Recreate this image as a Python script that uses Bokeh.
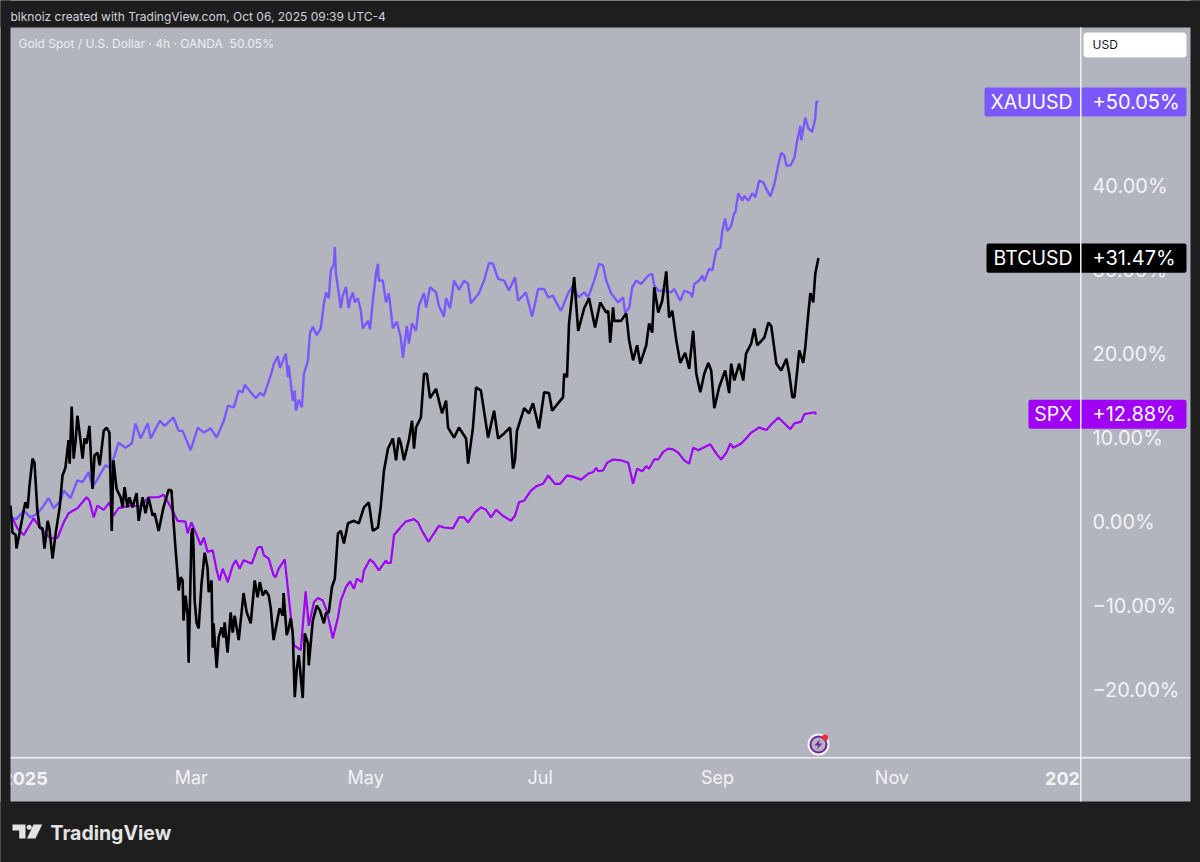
# Gold / Bitcoin / S&P 500 performance, TradingView style

import pandas as pd
from bokeh.embed import file_html
from bokeh.models import BoxAnnotation, DatetimeTickFormatter, FixedTicker, Label, PolyAnnotation, Range1d
from bokeh.plotting import figure
from bokeh.resources import INLINE

# (days since 2025-01-01, % change)
btc = [(-4.2,2.0),(-3.5,-1.2),(-2.4,-1.5),(-2.1,-3.1),(-1.0,-1.2),(0.4,1.4),(1.0,2.4),(1.8,1.7),(2.4,4.2),(3.5,7.6),(4.2,7.1),
       (5.2,1.4),(6.0,-0.6),(7.0,-0.7),(7.7,-3.1),(8.8,0.2),(9.4,-0.7),(10.5,-4.3),(11.6,-1.3),(13.0,1.8),(14.0,5.6),(15.0,6.5),
       (16.1,9.8),(16.5,7.0),(17.2,13.8),(17.9,7.6),(18.6,9.8),(19.2,12.7),(20.0,10.6),(21.0,7.6),(21.7,10.0),(22.4,9.4),(23.4,11.5),
       (24.5,4.0),(25.2,8.0),(26.2,8.3),(27.0,6.8),(28.4,10.9),(29.4,11.3),(30.4,10.7),(31.2,-1.0),(31.8,7.4),(32.9,4.0),(34.3,3.0),
       (35.0,1.8),(35.7,4.2),(36.7,1.8),(37.4,3.0),(38.5,1.8),(39.9,3.5),(40.6,0.2),(42.0,3.0),(43.0,1.1),(44.1,3.0),(45.5,0.8),
       (46.2,1.1),(47.6,-1.0),(49.3,1.8),(51.1,3.9),(52.1,3.8),(52.8,0.2),(53.5,-3.1),(54.2,-6.1),(54.6,-8.1),(55.3,-6.5),(56.0,-6.9),
       (56.3,-11.7),(57.0,-8.7),(57.7,-10.8),(58.1,-16.7),(59.1,-1.3),(59.5,-0.7),(59.8,-3.0),(60.2,-9.3),(60.9,-12.0),(61.6,-12.6),
       (62.6,-7.3),(63.7,-3.6),(64.7,-5.4),(65.1,-8.3),(66.1,-6.9),(66.5,-14.9),(66.8,-12.0),(67.9,-17.3),(68.6,-13.7),(69.6,-12.5),
       (70.3,-13.7),(70.7,-11.9),(71.7,-15.5),(72.8,-10.7),(73.5,-13.1),(74.2,-11.1),(75.6,-14.0),(77.3,-8.4),(78.4,-10.7),(79.8,-12.0),
       (81.2,-6.9),(82.2,-8.9),(83.0,-7.1),(84.0,-8.7),(85.0,-8.1),(86.1,-8.7),(86.8,-10.2),(87.8,-14.0),(88.9,-12.0),(89.9,-10.2),
       (91.0,-11.1),(91.3,-8.4),(92.4,-13.4),(93.1,-12.6),(93.8,-11.4),(94.5,-13.2),(95.2,-20.8),(95.9,-17.4),(96.6,-15.8),(97.3,-18.4),
       (98.0,-20.9),(98.7,-13.2),(99.8,-14.4),(100.1,-17.0),(101.5,-11.7),(102.9,-9.9),(104.0,-10.5),(105.4,-12.0),(106.1,-10.8),
       (107.1,-10.7),(108.2,-7.7),(109.2,-6.7),(110.3,-1.3),(111.3,-1.0),(112.4,-2.5),(113.8,-0.1),(115.9,0.2),(117.6,-0.1),(119.4,1.8),
       (121.1,2.4),(122.5,-1.0),(124.3,-0.6),(125.3,2.0),(126.4,6.2),(127.8,8.8),(129.5,10.0),(130.6,7.4),(131.6,10.1),(132.3,9.4),
       (133.4,7.4),(135.1,9.8),(136.2,12.1),(136.9,8.8),(137.6,11.3),(139.3,12.5),(140.4,17.7),(141.4,17.7),(142.5,14.8),(144.6,15.9),
       (146.7,13.0),(148.1,14.5),(148.8,11.3),(150.9,10.1),(152.6,11.3),(155.1,10.0),(155.8,7.0),(157.5,11.3),(158.6,16.1),(160.3,15.7),
       (162.8,10.1),(164.9,13.3),(166.3,10.0),(168.4,10.6),(170.5,11.3),(171.5,6.4),(172.2,7.4),(172.9,10.9),(175.4,13.6),(177.1,13.0),
       (178.5,14.2),(180.6,11.2),(182.4,15.5),(184.1,15.4),(185.2,13.3),(187.3,14.2),(189.0,14.9),(189.4,17.7),(190.4,17.3),(191.1,23.7),
       (192.9,29.2),(194.3,22.8),(196.4,25.5),(198.1,26.7),(200.2,23.2),(202.0,26.2),(204.1,25.0),(204.8,25.2),(205.5,21.4),(206.5,25.6),
       (206.9,24.0),(209.3,24.0),(211.1,24.9),(212.1,21.7),(213.5,19.3),(214.9,21.1),(216.0,18.9),(218.1,21.1),(219.1,23.7),(220.2,22.6),
       (220.9,28.0),(222.3,25.0),(223.7,26.4),(225.1,29.9),(226.1,24.4),(227.2,25.2),(228.6,21.7),(230.0,19.0),(231.7,20.2),(233.1,18.3),
       (234.5,22.8),(235.6,17.7),(237.0,15.5),(238.4,17.7),(239.8,19.0),(240.8,18.1),(241.9,13.6),(243.6,16.1),(245.7,18.1),(247.1,15.4),
       (247.8,18.9),(248.9,16.9),(250.6,18.9),(252.0,16.9),(253.0,20.1),(254.8,21.3),(255.9,23.1),(256.9,21.1),(259.4,22.0),(260.8,23.8),
       (261.8,23.4),(263.6,18.9),(265.3,18.1),(267.1,19.5),(268.1,17.7),(269.2,14.9),(269.9,14.9),(270.9,18.1),(271.6,20.5),(273.0,19.0),
       (273.7,20.8),(274.8,25.0),(275.5,27.3),(276.5,26.2),(277.2,29.6),(278.3,31.47)]

gold = [(-4.2,0.6),(-2.1,0.4),(0.4,1.4),(2.8,0.6),(5.6,1.2),(7.4,2.0),(9.1,2.9),(10.9,1.7),(13.3,2.6),(14.4,3.8),(16.8,2.9),(19.2,5.0),
        (21.0,4.8),(23.1,6.0),(24.5,4.2),(26.6,5.4),(29.0,6.8),(30.8,6.5),(33.6,9.5),(36.0,8.9),(38.2,9.4),(39.5,11.8),(41.3,10.0),
        (43.8,11.8),(44.8,10.0),(48.0,12.1),(49.7,11.5),(52.8,12.5),(54.6,10.9),(56.0,10.9),(58.8,8.6),(61.3,11.3),(63.4,10.7),(65.8,11.2),
        (67.9,10.1),(70.4,12.1),(71.8,13.9),(73.9,13.7),(75.6,15.7),(77.0,15.5),(77.7,16.4),(79.8,15.5),(81.6,14.8),(83.0,15.4),(84.4,15.1),
        (86.8,17.5),(87.9,18.9),(89.3,19.8),(90.0,18.4),(92.1,20.1),(92.8,17.3),(93.1,18.7),(94.5,14.5),(95.2,15.7),(95.6,13.3),(96.6,14.6),
        (97.7,13.7),(98.4,17.7),(99.8,19.3),(100.5,22.5),(101.5,23.3),(102.9,22.3),(104.3,23.1),(105.4,26.1),(106.1,27.4),(107.1,26.7),
        (107.8,30.0),(108.9,30.8),(109.2,32.8),(109.6,29.6),(110.3,28.0),(111.3,25.5),(112.0,27.0),(113.1,28.0),(114.1,25.5),(114.5,26.4),
        (115.5,27.4),(116.2,26.2),(117.3,26.7),(118.3,25.2),(119.0,23.1),(120.8,24.0),(121.5,23.0),(122.5,26.4),(123.6,29.6),(124.3,30.8),
        (124.6,28.8),(126.0,28.8),(127.1,26.2),(128.1,27.3),(129.5,23.1),(130.9,23.9),(132.3,22.0),(133.0,19.6),(134.4,23.4),(135.1,21.3),
        (136.2,23.7),(137.6,22.8),(138.6,25.8),(140.4,27.3),(141.1,25.6),(142.5,28.0),(144.6,27.4),(145.6,25.8),(147.4,24.5),(148.1,26.7),
        (149.5,25.5),(150.9,28.8),(152.6,27.7),(154.4,28.8),(155.8,28.4),(156.8,26.1),(159.6,27.3),(161.4,28.8),(163.1,30.9),(164.5,30.8),
        (166.3,29.0),(168.4,28.8),(170.1,27.6),(172.2,29.2),(173.3,26.4),(176.0,27.4),(178.2,24.5),(180.3,27.8),(182.4,27.8),(183.8,26.8),
        (185.5,27.0),(186.6,26.2),(188.3,25.2),(190.8,27.3),(192.5,28.2),(194.3,26.8),(196.4,27.4),(197.8,26.8),(199.9,28.8),(201.6,30.8),
        (203.0,30.6),(204.1,28.8),(205.8,27.3),(208.3,26.2),(210.0,26.8),(210.7,25.0),(212.1,25.5),(213.2,28.0),(214.6,28.8),(216.3,28.4),
        (218.8,29.4),(220.2,29.6),(220.9,28.2),(222.3,27.6),(224.4,27.6),(226.8,27.4),(227.9,27.8),(230.0,26.4),(231.4,27.6),(233.5,27.3),
        (234.2,26.8),(234.9,28.4),(236.6,28.8),(237.7,29.4),(238.4,28.7),(240.1,30.2),(241.2,30.0),(242.6,32.4),(244.0,32.7),(244.7,34.7),
        (245.7,36.2),(246.4,34.7),(247.8,35.3),(248.9,36.9),(249.2,36.8),(250.3,39.2),(251.7,38.3),(252.4,38.9),(253.8,38.3),(255.2,39.2),
        (256.2,38.7),(257.6,40.7),(259.0,40.5),(260.4,39.5),(261.5,38.8),(262.9,40.3),(264.6,43.1),(265.3,44.0),(266.4,43.7),(267.1,42.5),
        (268.5,42.5),(269.9,43.4),(270.9,45.5),(272.0,47.2),(272.3,45.5),(273.7,48.2),(274.8,46.9),(276.1,46.5),(277.2,48.1),(277.6,50.1),
        (278.3,50.05)]

spx = [(-4.2,0.5),(-3.5,0.5),(-1.8,-0.7),(0.4,-1.5),(3.9,0.5),(6.3,-0.7),(9.8,-1.9),(12.3,-1.8),(14.4,0.0),(16.1,1.1),(19.2,1.7),(22.4,3.0),
       (23.4,2.6),(24.9,0.6),(26.2,2.0),(28.4,1.5),(30.4,2.4),(31.8,0.8),(33.6,1.7),(37.8,2.0),(41.3,1.9),(44.1,3.0),(47.6,3.0),(49.3,3.3),
       (51.1,2.3),(52.8,1.2),(54.2,0.2),(57.0,0.1),(57.7,-1.3),(59.1,0.0),(61.3,-1.8),(62.3,-2.7),(63.4,-1.8),(64.7,-3.5),(66.5,-3.3),
       (67.9,-5.7),(68.9,-6.9),(70.0,-5.5),(71.8,-7.1),(73.5,-5.1),(74.6,-4.5),(75.9,-5.5),(77.3,-4.5),(80.2,-4.9),(82.2,-3.0),(83.6,-2.9),
       (84.4,-3.9),(86.1,-4.3),(87.8,-6.3),(88.5,-6.5),(89.6,-5.5),(91.7,-4.4),(93.1,-8.9),(94.9,-14.6),(97.3,-15.2),(99.0,-8.2),(100.1,-12.3),
       (101.9,-9.5),(103.3,-9.0),(105.0,-9.3),(106.4,-10.5),(108.5,-13.8),(110.3,-11.3),(111.3,-9.3),(113.1,-7.7),(114.5,-7.0),(115.9,-7.9),
       (116.9,-6.7),(118.7,-7.1),(119.4,-5.7),(121.5,-4.4),(122.9,-4.8),(124.6,-5.7),(127.1,-4.5),(127.4,-4.8),(128.8,-4.8),(129.9,-1.5),
       (131.6,-0.8),(134.0,0.1),(136.9,0.4),(138.3,0.0),(139.7,-1.0),(141.9,-2.3),(145.6,-0.4),(147.4,-0.6),(150.5,-0.7),(152.6,0.6),(154.4,0.6),
       (155.8,0.0),(158.2,1.2),(160.3,1.8),(162.1,1.5),(163.8,0.6),(165.6,1.5),(168.0,0.8),(170.8,0.2),(172.2,0.8),(173.6,2.4),(175.4,2.6),
       (177.8,3.8),(179.6,4.3),(182.0,4.6),(183.8,5.6),(186.2,4.6),(188.0,4.6),(190.4,5.6),(192.9,5.4),(195.3,5.1),(197.8,5.8),(199.5,6.0),
       (200.6,6.5),(201.3,6.1),(203.0,6.2),(204.4,7.1),(206.5,7.5),(209.3,7.4),(211.8,7.1),(213.5,4.6),(214.9,6.4),(216.7,6.1),(218.1,6.7),
       (219.1,6.4),(220.9,7.5),(222.3,7.5),(224.0,8.4),(225.8,8.8),(227.5,8.7),(229.3,8.3),(231.4,7.4),(233.1,7.0),(234.5,8.9),(236.3,8.6),
       (238.0,8.9),(240.5,9.3),(242.6,8.2),(244.3,7.5),(246.1,8.3),(247.5,9.4),(248.5,8.9),(251.3,9.4),(253.0,10.0),(254.8,10.7),(257.6,11.3),
       (260.1,11.0),(262.2,11.8),(264.3,12.5),(266.4,11.8),(268.5,11.1),(269.9,11.8),(272.3,12.0),(273.4,12.9),(275.1,13.0),(276.9,13.1),
       (277.6,12.88)]

price_ticks = [-20, -10, 0, 10, 20, 30, 40]
price_labels = ["\u221220.00%", "\u221210.00%", "0.00%", "10.00%", "20.00%", "30.00%", "40.00%"]
month_ticks = ["2025-03-01", "2025-05-01", "2025-07-01", "2025-09-01", "2025-11-01"]
year_ticks = [("2025-01-01", "2025"), ("2026-01-01", "2026")]
tags = [("XAUUSD", 50.05, "+50.05%", "#7a58fb", 984), ("BTCUSD", 31.47, "+31.47%", "#000000", 986), ("SPX", 12.88, "+12.88%", "#a000f5", 1028)]

DARK = "#1e1e1e"
PANEL = "#b2b5be"
SOFT = "#f2f3f6"
FONT = "Inter"

START = pd.Timestamp("2025-01-01")


def to_dates(points):
    return START + pd.to_timedelta([d for d, _ in points], unit="D")


# the frame fills the page, the axes sit inside it at a fixed place (annotations get clipped to the frame otherwise)
p = figure(width=1200, height=862, x_axis_type="datetime", y_axis_location="right",
           x_range=Range1d(START + pd.Timedelta(days=-7.69), START + pd.Timedelta(days=411.9)),
           y_range=Range1d(-40.48, 62.14),
           output_backend="svg", toolbar_location=None, min_border=0)
p.border_fill_color = DARK
p.background_fill_color = PANEL
p.outline_line_color = None
p.grid.visible = False


# boxes in canvas pixels
def box(left, right, top, bottom, color, radius=0):
    b = BoxAnnotation(left=left, right=right, top=top, bottom=bottom,
                      left_units="canvas", right_units="canvas", top_units="canvas", bottom_units="canvas",
                      fill_color=color, fill_alpha=1, line_color=None, border_radius=radius)
    p.add_layout(b)
    return b


def poly(points, color):
    p.add_layout(PolyAnnotation(xs=[a for a, _ in points], ys=[b for _, b in points], xs_units="canvas", ys_units="canvas",
                                fill_color=color, fill_alpha=1, line_color=None))


# axes
p.xaxis.fixed_location = -27.98
p.xaxis.ticker = FixedTicker(ticks=[pd.Timestamp(d).timestamp() * 1000 for d in month_ticks])
p.xaxis.formatter = DatetimeTickFormatter(months="%b", days="%b", context=None)
p.xaxis.major_label_text_color = SOFT
p.xaxis.major_label_text_font = FONT
p.xaxis.major_label_text_font_size = "18px"
p.xaxis.major_label_standoff = 3
p.yaxis.fixed_location = (START + pd.Timedelta(days=369.93)).timestamp() * 1000
p.yaxis.ticker = FixedTicker(ticks=price_ticks)
p.yaxis.major_label_overrides = dict(zip(price_ticks, price_labels))
p.yaxis.major_label_text_color = SOFT
p.yaxis.major_label_text_font = FONT
p.yaxis.major_label_text_font_size = "20px"
p.yaxis.major_label_standoff = 6
for ax in (p.xaxis[0], p.yaxis[0]):
    ax.axis_line_color = None
    ax.major_tick_line_color = None
    ax.minor_tick_line_color = None

# lines
p.line(to_dates(gold), [v for _, v in gold], line_color="#7a58fb", line_width=2.4)
p.line(to_dates(spx), [v for _, v in spx], line_color="#a000f5", line_width=2.2)
p.line(to_dates(btc), [v for _, v in btc], line_color="#000000", line_width=2.6)

# bold year labels, cut by the panel edges like on the original
for day, name in year_ticks:
    p.add_layout(Label(x=pd.Timestamp(day), y=778, x_units="data", y_units="canvas", text=name, text_color=SOFT, text_font=FONT,
                       text_font_size="18px", text_font_style="bold", text_align="center", text_baseline="middle", x_offset=2))
box(1080, 1190, 758, 801, PANEL)

# dark frame round the panel
box(-2, 1202, -2, 27, DARK)
box(-2, 1202, 801, 864, DARK)
box(-2, 10, -2, 864, DARK)
box(1190, 1202, -2, 864, DARK)

# currency tags
for name, val, txt, col, left in tags:
    b = BoxAnnotation(left=left, right=1186, top=val + 1.73, bottom=val - 1.73, left_units="canvas", right_units="canvas",
                      fill_color=col, fill_alpha=1, line_color=None, border_radius=2)
    p.add_layout(b)
    p.add_layout(Label(x=1072, y=val, x_units="canvas", y_units="data", text=name, text_color="#ffffff", text_font=FONT,
                       text_font_size="19.5px", text_align="right", text_baseline="middle"))
    p.add_layout(Label(x=1092, y=val, x_units="canvas", y_units="data", text=txt, text_color="#ffffff", text_font=FONT,
                       text_font_size="20px", text_align="left", text_baseline="middle"))

# price scale and time scale separators
box(1079.5, 1081, 27, 801, "#eef0f4")
box(10, 1190, 756.5, 758, "#eef0f4")

# USD button
box(1083, 1186, 32, 57, "#ffffff", radius=4)
p.add_layout(Label(x=1092, y=44, x_units="canvas", y_units="canvas", text="USD", text_color="#131722", text_font=FONT,
                   text_font_size="12px", text_baseline="middle"))

# header texts
p.add_layout(Label(x=10, y=16, x_units="canvas", y_units="canvas", text="blknoiz created with TradingView.com, Oct 06, 2025 09:39 UTC-4",
                   text_color="#d1d4dc", text_font=FONT, text_font_size="12px", text_baseline="middle"))
p.add_layout(Label(x=18, y=43, x_units="canvas", y_units="canvas", text="Gold Spot / U.S. Dollar \u00b7 4h \u00b7 OANDA\u00a0\u00a050.05%",
                   text_color="#eceef2", text_font=FONT, text_font_size="12px", text_baseline="middle"))

# TradingView logo
poly([(12, 824), (25, 824), (25, 838), (18.7, 838), (18.7, 830), (12, 830)], "#e3e3e3")
box(26.2, 31.2, 824.2, 829.2, "#e3e3e3", radius=3)
poly([(33, 824), (41.7, 824), (35, 838), (26.5, 838)], "#e3e3e3")
p.add_layout(Label(x=50, y=832, x_units="canvas", y_units="canvas", text="TradingView", text_color="#e3e3e3", text_font=FONT,
                   text_font_size="19.5px", text_font_style="bold", text_baseline="middle"))

# news badge on the time scale
box(807, 829, 733, 755, "#f5f5f8", radius=11)
box(809, 827, 735, 753, "#7b1fa2", radius=9)
box(811, 825, 737, 751, PANEL, radius=7)
poly([(819.5, 738.5), (814, 745), (817.8, 745), (816, 749.5), (821.8, 743), (818.2, 743)], "#7b1fa2")
box(821.5, 827.5, 734, 740, "#f0292d", radius=3)

open("out.html", "w").write(file_html(p, INLINE))
